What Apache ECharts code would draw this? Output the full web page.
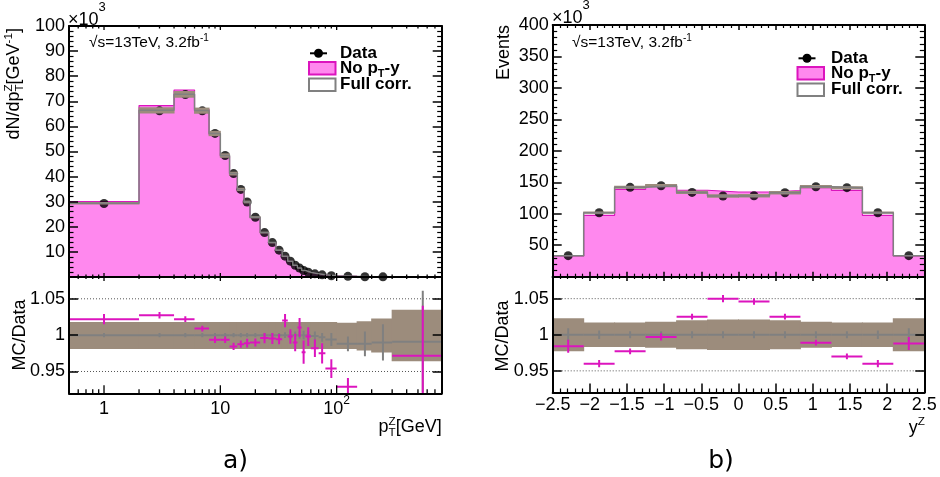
<!DOCTYPE html>
<html>
<head>
<meta charset="utf-8">
<script src="https://cdn.jsdelivr.net/npm/echarts@6.0.0/dist/echarts.min.js"></script>
<style>
  html, body { margin: 0; padding: 0; background: #fff; }
  #chart { width: 940px; height: 477px; }
</style>
</head>
<body>
<div id="chart"></div>
<script>
// ---- a) pT^Z ----
const ptEdges = [0, 2, 4, 6, 8, 10, 12, 14, 16, 18, 22, 26, 30, 34, 38, 42, 46, 50, 54, 60, 70, 80, 100, 150, 200, 300, 800]
const ptTicks = [0.6, 0.7, 0.8, 0.9, 1, 2, 3, 4, 5, 6, 7, 8, 9, 10, 20, 30, 40, 50, 60, 70, 80, 90, 100, 200, 300, 400, 500, 600, 700, 800]
const ptMajorTicks = [1, 10, 100]
const ptTickLabels = { 1: '{n|1}', 10: '{n|10}', 100: '{n|10}{s|2}' }
// dN/dpT in units of 10^3 / GeV
const ptData = [29.3, 66.2, 72.7, 66.2, 57.2, 48.4, 41.2, 34.9, 29.9, 23.8, 17.7, 13.7, 10.7, 8.3, 6.3, 4.7, 3.55, 2.6, 1.9, 1.25, 0.85, 0.5, 0.25, 0.12, 0.06, null]
const ptNoPtY = [30.0, 68.3, 74.5, 66.8, 56.8, 48.1, 40.6, 34.5, 29.6, 23.6, 17.6, 13.6, 10.6, 8.5, 6.3, 4.65, 3.6, 2.55, 1.9, 1.23, 0.83, 0.48, 0.23, 0.1, 0.05, 0.004]
const ptFullCorr = [29.4, 66.4, 72.8, 66.3, 57.2, 48.4, 41.2, 34.9, 29.9, 23.8, 17.7, 13.7, 10.7, 8.3, 6.3, 4.7, 3.55, 2.6, 1.9, 1.25, 0.85, 0.5, 0.25, 0.12, 0.06, 0.005]
// MC/Data
const ptRatioNoPtY = [1.022, 1.0275, 1.022, 1.009, 0.9936, 0.9936, 0.9844, 0.9876, 0.989, 0.99, 0.996, 0.9954, 0.9945, 1.020, 0.998, 0.990, 1.0105, 0.9766, 0.998, 0.982, 0.975, 0.954, 0.929, null, null, 0.9715]
const ptRatioNoPtYErr = [0.007, 0.0045, 0.004, 0.004, 0.0045, 0.0045, 0.005, 0.005, 0.006, 0.0055, 0.007, 0.0075, 0.007, 0.009, 0.01, 0.012, 0.013, 0.016, 0.013, 0.012, 0.014, 0.013, 0.012, null, null, 0.069]
const ptRatioFull = [1, 1, 1, 1, 1, 1, 1, 1, 1, 1, 1, 1, 1, 1, 1, 1, 1, 1, 1, 0.999, 0.997, 0.994, 0.988, 0.988, 0.990, 0.991]
const ptRatioFullErr = [0.003, 0.003, 0.003, 0.003, 0.003, 0.003, 0.003, 0.003, 0.003, 0.003, 0.003, 0.003, 0.003, 0.004, 0.005, 0.005, 0.005, 0.006, 0.006, 0.006, 0.006, 0.009, 0.01, 0.017, 0.025, 0.07]
const ptBandLo = [0.981, 0.981, 0.981, 0.981, 0.981, 0.981, 0.981, 0.981, 0.981, 0.981, 0.981, 0.981, 0.981, 0.981, 0.981, 0.981, 0.981, 0.981, 0.981, 0.981, 0.981, 0.981, 0.981, 0.979, 0.976, 0.964]
const ptBandHi = [1.018, 1.018, 1.018, 1.018, 1.018, 1.018, 1.018, 1.018, 1.018, 1.018, 1.018, 1.018, 1.018, 1.018, 1.018, 1.018, 1.018, 1.018, 1.018, 1.018, 1.018, 1.018, 1.017, 1.019, 1.023, 1.035]

// ---- b) y^Z ----
const yEdges = [-2.5, -2.083, -1.667, -1.25, -0.833, -0.417, 0, 0.417, 0.833, 1.25, 1.667, 2.083, 2.5]
// events in units of 10^3
const yData = [33.4, 101.7, 142.0, 144.6, 134.0, 128.2, 128.7, 133.5, 143.0, 141.5, 101.7, 33.4]
const yNoPtY = [32.9, 97.6, 138.7, 144.2, 137.4, 134.6, 134.6, 136.8, 141.4, 137.2, 97.6, 33.0]
const yFullCorr = [33.4, 101.7, 142.0, 144.6, 134.0, 128.2, 128.7, 133.5, 143.0, 141.5, 101.7, 33.4]
const yRatioNoPtY = [0.984, 0.960, 0.977, 0.997, 1.025, 1.050, 1.046, 1.025, 0.989, 0.970, 0.960, 0.988]
const yRatioNoPtYErr = [0.009, 0.005, 0.004, 0.005, 0.004, 0.005, 0.0045, 0.004, 0.004, 0.004, 0.005, 0.009]
const yRatioFull = [1, 1, 1, 1, 1, 1, 1, 1, 1, 1, 1, 1]
const yRatioFullErr = [0.009, 0.006, 0.005, 0.005, 0.005, 0.005, 0.005, 0.005, 0.005, 0.005, 0.006, 0.009]
const yBandLo = [0.977, 0.983, 0.983, 0.982, 0.980, 0.979, 0.979, 0.980, 0.982, 0.983, 0.983, 0.977]
const yBandHi = [1.023, 1.017, 1.017, 1.018, 1.020, 1.021, 1.021, 1.020, 1.018, 1.017, 1.017, 1.023]

const ratioTicks = [0.95, 1, 1.05]
const ratioLines = [0.95, 1.05]

const PT_MIN = 0.5, PT_MAX = 800
const Y_MIN = -2.5, Y_MAX = 2.5
const R_MIN = 0.92, R_MAX = 1.08

const FONT = '"Liberation Sans", Arial, Helvetica, sans-serif'
const PINK = '#ff88ee'
const MAGENTA = '#dc14be'
const BAND = '#9c8c7c'
const GRAY = '#808080'
const LINE = { color: '#000', width: 2 }
const TICK = { color: '#000', width: 1.5 }
const LABEL = { color: '#000', fontSize: 18, fontFamily: FONT }

// ---- helpers ----
const mctx = document.createElement('canvas').getContext('2d')
function measure(t, size, weight) {
  mctx.font = (weight || 'normal') + ' ' + size + 'px ' + FONT
  return mctx.measureText(t).width
}

// text with sub/superscripts; kind: '' | 'sub' | 'sup' | 'over' (sup stacked over previous sub)
function richText(parts, o) {
  const size = o.size
  const weight = o.weight || 'normal'
  let x = 0
  let subX = 0
  const kids = []
  parts.forEach(p => {
    const t = p[0]
    const kind = p[1] || ''
    const fs = kind ? (p[3] || size * 0.65) : size
    let dy = 0
    if (kind === 'sub') dy = size * 0.32
    if (kind === 'sup' || kind === 'over') dy = -size * 0.3
    if (p[2] !== undefined) dy = p[2]
    const px = kind === 'over' ? subX : x
    kids.push({
      type: 'text', x: px, y: dy, silent: true,
      style: {
        text: t, fill: o.color || '#000', fontSize: fs, fontFamily: FONT, fontWeight: weight,
        align: 'left', verticalAlign: 'middle', textAlign: 'left', textVerticalAlign: 'middle'
      }
    })
    const w = measure(t, fs, weight)
    if (kind === 'sub') subX = x
    x = Math.max(x, px + w)
  })
  const shift = o.align === 'right' ? -x : (o.align === 'center' ? -x / 2 : 0)
  kids.forEach(k => { k.x += shift })
  return { type: 'group', x: o.x, y: o.y, rotation: o.rot || 0, z: 100, children: kids }
}

function stepPts(edges, vals, xmin) {
  const pts = vals.map((v, i) => [Math.max(edges[i], xmin), v])
  pts.push([edges[edges.length - 1], vals[vals.length - 1]])
  return pts
}
function centers(edges) {
  return edges.slice(0, -1).map((e, i) => (e + edges[i + 1]) / 2)
}
function bandItems(edges, xmin, lo, hi) {
  return lo.map((l, i) => [Math.max(edges[i], xmin), edges[i + 1], l, hi[i]])
}
function errItems(edges, xmin, vals, errs) {
  const c = centers(edges)
  return vals.map((v, i) => [Math.max(edges[i], xmin), edges[i + 1], c[i], v, errs[i]])
}

// ---- axes ----
function logAxis(grid, pos, label) {
  return {
    type: 'log', logBase: 10, gridIndex: grid, position: pos, min: PT_MIN, max: PT_MAX, z: 10,
    axisLine: { show: true, onZero: false, lineStyle: LINE },
    axisTick: { show: false }, minorTick: { show: false }, splitLine: { show: false },
    axisLabel: label ? {
      show: true, margin: 1,
      formatter: v => ptTickLabels[+(+v).toPrecision(6)] || '',
      rich: {
        n: { fontSize: 18, fontFamily: FONT, color: '#000', lineHeight: 24, verticalAlign: 'bottom' },
        s: { fontSize: 12, fontFamily: FONT, color: '#000', lineHeight: 12, verticalAlign: 'top' }
      }
    } : { show: false }
  }
}
function linX(grid, pos, major, minor, label) {
  return {
    type: 'value', gridIndex: grid, position: pos, min: Y_MIN, max: Y_MAX, interval: 0.5, z: 10,
    axisLine: { show: true, onZero: false, lineStyle: LINE },
    axisTick: { show: true, inside: true, length: major, lineStyle: TICK },
    minorTick: { show: true, splitNumber: 5, length: minor, lineStyle: { color: '#000', width: 1.2 } },
    splitLine: { show: false },
    axisLabel: label ? Object.assign({
      show: true, margin: 4,
      formatter: v => v < 0 ? '\u2212' + (-v) : String(v)
    }, LABEL) : { show: false }
  }
}
function valY(grid, pos, max, interval, label) {
  return {
    type: 'value', gridIndex: grid, position: pos, min: 0, max: max, interval: interval, z: 10,
    axisLine: { show: true, onZero: false, lineStyle: LINE },
    axisTick: { show: true, inside: true, length: 9, lineStyle: TICK },
    minorTick: { show: true, splitNumber: 5, length: 4.5, lineStyle: { color: '#000', width: 1.2 } },
    splitLine: { show: false },
    axisLabel: label ? Object.assign({
      show: true, margin: 4, formatter: v => v === 0 ? '' : String(v)
    }, LABEL) : { show: false }
  }
}
function ratioY(grid, pos, label) {
  return {
    type: 'value', gridIndex: grid, position: pos, min: R_MIN, max: R_MAX, z: 10,
    axisLine: { show: true, onZero: false, lineStyle: LINE },
    axisTick: { show: true, inside: true, length: 9, lineStyle: TICK, customValues: ratioTicks },
    minorTick: { show: false }, splitLine: { show: false },
    axisLabel: label ? Object.assign({
      show: true, margin: 4, customValues: ratioTicks,
      formatter: v => String(+(+v).toFixed(2))
    }, LABEL) : { show: false }
  }
}

// ---- series ----
function histFill(xi, yi, edges, vals, xmin) {
  return {
    type: 'line', xAxisIndex: xi, yAxisIndex: yi, step: 'end', silent: true, z: 1,
    data: stepPts(edges, vals, xmin), symbol: 'none',
    lineStyle: { color: MAGENTA, width: 1.2 },
    areaStyle: { color: PINK, opacity: 1 }
  }
}
function histLine(xi, yi, edges, vals, xmin) {
  return {
    type: 'line', xAxisIndex: xi, yAxisIndex: yi, step: 'end', silent: true, z: 5,
    data: stepPts(edges, vals, xmin), symbol: 'none',
    lineStyle: { color: GRAY, width: 1.5 }
  }
}
function points(xi, yi, edges, vals) {
  const c = centers(edges)
  return {
    type: 'scatter', xAxisIndex: xi, yAxisIndex: yi, silent: true, z: 3,
    symbol: 'circle', symbolSize: 9, itemStyle: { color: '#000' },
    data: vals.map((v, i) => [c[i], v]).filter(d => d[1] !== null)
  }
}
function bandSeries(xi, yi, items, z) {
  return {
    type: 'custom', xAxisIndex: xi, yAxisIndex: yi, silent: true, clip: true, z: z,
    data: items, encode: { x: [0, 1], y: [2, 3] },
    renderItem: (params, api) => {
      const p0 = api.coord([api.value(0), api.value(3)])
      const p1 = api.coord([api.value(1), api.value(2)])
      // overlap neighbours by half a pixel so no seams show between bins
      return {
        type: 'rect',
        shape: { x: p0[0] - 0.5, y: p0[1], width: p1[0] - p0[0] + 1, height: p1[1] - p0[1] },
        style: { fill: BAND }
      }
    }
  }
}
function errSeries(xi, yi, items, color, width, z) {
  return {
    type: 'custom', xAxisIndex: xi, yAxisIndex: yi, silent: true, clip: true, z: z,
    data: items, encode: { x: [0, 1, 2], y: [3] },
    renderItem: (params, api) => {
      const v = api.value(3)
      if (isNaN(v)) return null
      const e = api.value(4)
      const cs = params.coordSys
      const a = api.coord([api.value(0), v])
      const b = api.coord([api.value(1), v])
      const t = api.coord([api.value(2), v + e])
      const d = api.coord([api.value(2), v - e])
      const cy = y => Math.min(Math.max(y, cs.y), cs.y + cs.height)
      const st = { stroke: color, lineWidth: width }
      return {
        type: 'group', children: [
          { type: 'line', shape: { x1: a[0], y1: a[1], x2: b[0], y2: b[1] }, style: st },
          { type: 'line', shape: { x1: t[0], y1: cy(t[1]), x2: d[0], y2: cy(d[1]) }, style: st }
        ]
      }
    }
  }
}
function refLines(xi, yi, xRef) {
  return {
    type: 'custom', xAxisIndex: xi, yAxisIndex: yi, silent: true, z: 1,
    data: ratioLines.map(v => [xRef, v]), encode: { x: 0, y: 1 },
    renderItem: (params, api) => {
      const cs = params.coordSys
      const y = api.coord([api.value(0), api.value(1)])[1]
      return {
        type: 'line', shape: { x1: cs.x, y1: y, x2: cs.x + cs.width, y2: y },
        style: { stroke: '#555', lineWidth: 1, lineDash: [1, 2] }
      }
    }
  }
}
function logTicks(xi, yi, yLo, yHi, bot, top) {
  return {
    type: 'custom', xAxisIndex: xi, yAxisIndex: yi, silent: true, z: 12,
    data: ptTicks.map(v => [v, yLo]), encode: { x: 0, y: 1 },
    renderItem: (params, api) => {
      const v = api.value(0)
      const big = ptMajorTicks.indexOf(v) >= 0
      const b = api.coord([v, yLo])
      const t = api.coord([v, yHi])
      const lb = big ? bot[0] : bot[1]
      const lt = big ? top[0] : top[1]
      const st = { stroke: '#000', lineWidth: 1.3 }
      return {
        type: 'group', children: [
          { type: 'line', shape: { x1: b[0], y1: b[1], x2: b[0], y2: b[1] - lb }, style: st },
          { type: 'line', shape: { x1: t[0], y1: t[1], x2: t[0], y2: t[1] + lt }, style: st }
        ]
      }
    }
  }
}

// ---- legend / labels (graphic) ----
function legend(dx, dy, tx) {
  return [
    { type: 'line', z: 100, shape: { x1: 310 + dx, y1: 53.3 + dy, x2: 327 + dx, y2: 53.3 + dy }, style: { stroke: '#000', lineWidth: 2 } },
    { type: 'circle', z: 100, shape: { cx: 318.5 + dx, cy: 53.3 + dy, r: 4.5 }, style: { fill: '#000' } },
    { type: 'rect', z: 100, shape: { x: 309 + dx, y: 62 + dy, width: 26.5, height: 12.5 }, style: { fill: PINK, stroke: MAGENTA, lineWidth: 2 } },
    { type: 'rect', z: 100, shape: { x: 309 + dx, y: 78.5 + dy, width: 26.5, height: 12.5 }, style: { fill: '#fff', stroke: GRAY, lineWidth: 2 } },
    richText([['Data']], { x: tx, y: 53 + dy, size: 17, weight: 'bold' }),
    richText([['No p'], ['T', 'sub'], ['-y']], { x: tx, y: 68.5 + dy, size: 17, weight: 'bold' }),
    richText([['Full corr.']], { x: tx, y: 84 + dy, size: 17, weight: 'bold' })
  ]
}

const graphic = [].concat(
  legend(0, 0, 340),
  legend(488.5, 5, 831),
  [
    richText([['\u221As=13TeV, 3.2fb'], ['-1', 'sup', -5, 10]], { x: 89, y: 43, size: 15.5 }),
    richText([['\u221As=13TeV, 3.2fb'], ['-1', 'sup', -5, 10]], { x: 572, y: 43, size: 15.5 }),
    richText([['\u00d710'], ['3', 'sup', -13, 13]], { x: 68, y: 20, size: 18 }),
    richText([['\u00d710'], ['3', 'sup', -13, 13]], { x: 552, y: 18, size: 18 }),
    richText([['dN/dp'], ['T', 'sub'], ['Z', 'over'], ['[GeV'], ['-1', 'sup'], [']']], { x: 14, y: 28, size: 18, align: 'right', rot: Math.PI / 2 }),
    richText([['Events']], { x: 504, y: 25, size: 18, align: 'right', rot: Math.PI / 2 }),
    richText([['MC/Data']], { x: 20, y: 335, size: 18, align: 'center', rot: Math.PI / 2 }),
    richText([['MC/Data']], { x: 503, y: 336, size: 18, align: 'center', rot: Math.PI / 2 }),
    richText([['p'], ['T', 'sub'], ['Z', 'over'], ['[GeV]']], { x: 441.7, y: 427, size: 18, align: 'right' }),
    richText([['y'], ['Z', 'sup', -6]], { x: 925, y: 428, size: 18, align: 'right' }),
    { type: 'text', z: 100, x: 235.5, y: 461, style: { text: 'a)', fill: '#000', fontSize: 25, fontFamily: '"DejaVu Sans", sans-serif', align: 'center', verticalAlign: 'middle', textAlign: 'center', textVerticalAlign: 'middle' } },
    { type: 'text', z: 100, x: 721, y: 461, style: { text: 'b)', fill: '#000', fontSize: 25, fontFamily: '"DejaVu Sans", sans-serif', align: 'center', verticalAlign: 'middle', textAlign: 'center', textVerticalAlign: 'middle' } }
  ]
)

const gridBase = { show: false, containLabel: false, outerBoundsMode: 'none' }

const option = {
  animation: false,
  backgroundColor: '#fff',
  grid: [
    Object.assign({ left: 69, top: 26, width: 372.7, height: 251 }, gridBase),
    Object.assign({ left: 69, top: 277, width: 372.7, height: 116.3 }, gridBase),
    Object.assign({ left: 552.7, top: 25, width: 371.6, height: 251.7 }, gridBase),
    Object.assign({ left: 552.7, top: 277, width: 371.6, height: 115.5 }, gridBase)
  ],
  xAxis: [
    logAxis(0, 'bottom', false),
    logAxis(0, 'top', false),
    logAxis(1, 'bottom', true),
    logAxis(1, 'top', false),
    linX(2, 'bottom', 5, 3, false),
    linX(2, 'top', 5, 3, false),
    linX(3, 'bottom', 9, 4, true),
    linX(3, 'top', 4, 2, false)
  ],
  yAxis: [
    valY(0, 'left', 100, 10, true),
    valY(0, 'right', 100, 10, false),
    ratioY(1, 'left', true),
    ratioY(1, 'right', false),
    valY(2, 'left', 400, 50, true),
    valY(2, 'right', 400, 50, false),
    ratioY(3, 'left', true),
    ratioY(3, 'right', false)
  ],
  series: [
    // a) top
    histFill(0, 0, ptEdges, ptNoPtY, PT_MIN),
    points(0, 0, ptEdges, ptData),
    bandSeries(0, 0, bandItems(ptEdges, PT_MIN, ptFullCorr.map((v, i) => v * ptBandLo[i]), ptFullCorr.map((v, i) => v * ptBandHi[i])), 4),
    histLine(0, 0, ptEdges, ptFullCorr, PT_MIN),
    logTicks(0, 0, 0, 100, [4, 2.5], [4, 2.5]),
    // a) ratio
    bandSeries(2, 2, bandItems(ptEdges, PT_MIN, ptBandLo, ptBandHi), 2),
    refLines(2, 2, 1),
    errSeries(2, 2, errItems(ptEdges, PT_MIN, ptRatioFull, ptRatioFullErr), GRAY, 2, 3),
    errSeries(2, 2, errItems(ptEdges, PT_MIN, ptRatioNoPtY, ptRatioNoPtYErr), MAGENTA, 2, 4),
    logTicks(2, 2, R_MIN, R_MAX, [8, 4], [4, 2]),
    // b) top
    histFill(4, 4, yEdges, yNoPtY, Y_MIN),
    points(4, 4, yEdges, yData),
    bandSeries(4, 4, bandItems(yEdges, Y_MIN, yFullCorr.map((v, i) => v * yBandLo[i]), yFullCorr.map((v, i) => v * yBandHi[i])), 4),
    histLine(4, 4, yEdges, yFullCorr, Y_MIN),
    // b) ratio
    bandSeries(6, 6, bandItems(yEdges, Y_MIN, yBandLo, yBandHi), 2),
    refLines(6, 6, 0),
    errSeries(6, 6, errItems(yEdges, Y_MIN, yRatioFull, yRatioFullErr), GRAY, 2, 3),
    errSeries(6, 6, errItems(yEdges, Y_MIN, yRatioNoPtY, yRatioNoPtYErr), MAGENTA, 2, 4)
  ],
  graphic: graphic
}

const chart = echarts.init(document.getElementById('chart'))
chart.setOption(option)
</script>
</body>
</html>
